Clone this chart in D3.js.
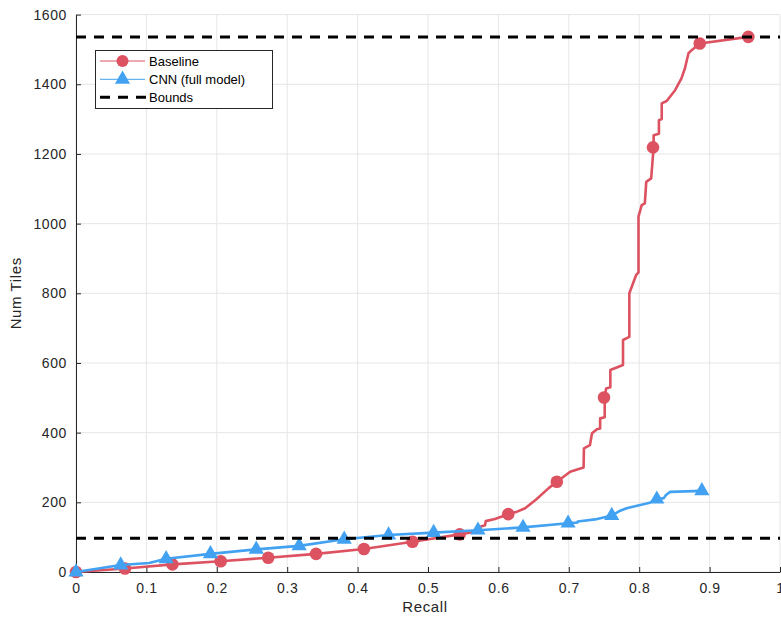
<!DOCTYPE html>
<html>
<head>
<meta charset="utf-8">
<script src="https://cdn.jsdelivr.net/npm/d3@7"></script>
<style>
  html, body { margin: 0; padding: 0; background: #fff; }
  svg text { font-family: "Liberation Sans", Arial, Helvetica, sans-serif; }
</style>
</head>
<body>
<svg id="chart" width="781" height="617"></svg>
<script>
// ---- data ----
const baselineRecall = [0, 0.07, 0.137, 0.2055, 0.273, 0.341, 0.409, 0.478, 0.545, 0.565, 0.573, 0.574, 0.581, 0.582, 0.595, 0.614, 0.625, 0.638, 0.654, 0.671, 0.683, 0.702, 0.721, 0.7215, 0.730, 0.733, 0.740, 0.7445, 0.7445, 0.751, 0.751, 0.753, 0.759, 0.759, 0.777, 0.777, 0.786, 0.786, 0.7955, 0.799, 0.799, 0.8036, 0.808, 0.810, 0.817, 0.8205, 0.8205, 0.828, 0.828, 0.832, 0.832, 0.839, 0.851, 0.860, 0.865, 0.870, 0.8745, 0.886, 0.955];
const baselineTiles  = [0, 10, 22, 31, 41, 52, 66, 87, 108, 115, 118, 130, 134, 146, 152, 166, 172, 183, 209, 240, 259, 288, 300, 355, 364, 398, 410, 412, 441, 444, 501, 527, 530, 580, 594, 666, 675, 800, 852, 860, 1020, 1053, 1058, 1120, 1130, 1219, 1254, 1258, 1297, 1300, 1345, 1352, 1383, 1417, 1446, 1489, 1498, 1517, 1536];
const baselineMarkRecall = [0, 0.0696, 0.137, 0.2055, 0.273, 0.341, 0.409, 0.478, 0.545, 0.614, 0.683, 0.750, 0.8196, 0.886, 0.955];
const baselineMarkTiles  = [0, 10, 22, 31, 41, 52, 66, 87, 108, 166, 259, 501, 1219, 1517, 1536];

const cnnRecall = [0, 0.0635, 0.104, 0.128, 0.191, 0.256, 0.317, 0.381, 0.444, 0.508, 0.571, 0.635, 0.699, 0.7125, 0.7125, 0.7375, 0.761, 0.773, 0.782, 0.815, 0.825, 0.835, 0.838, 0.844, 0.889];
const cnnTiles  = [0, 20, 26, 38, 52, 65, 75, 94, 106, 113, 120, 128, 140, 142, 145, 151, 162, 176, 183, 199, 209, 212, 221, 230, 233];
const cnnMarkRecall = [0, 0.0635, 0.128, 0.191, 0.256, 0.317, 0.381, 0.444, 0.508, 0.571, 0.635, 0.699, 0.761, 0.825, 0.889];
const cnnMarkTiles  = [0, 20, 38, 52, 65, 75, 94, 106, 113, 120, 128, 140, 162, 209, 233];

const boundValues = [97, 1536];

const xTicks = [0, 0.1, 0.2, 0.3, 0.4, 0.5, 0.6, 0.7, 0.8, 0.9, 1];
const xTickLabels = ["0", "0.1", "0.2", "0.3", "0.4", "0.5", "0.6", "0.7", "0.8", "0.9", "1"];
const yTicks = [0, 200, 400, 600, 800, 1000, 1200, 1400, 1600];
const legendLabels = ["Baseline", "CNN (full model)", "Bounds"];

// ---- styles ----
const RED = "#dd5260";
const BLUE = "#42a2f1";
const AX = "#262626";
const GRID = "#e6e6e6";

const svg = d3.select("#chart");
const L = 76, R = 780, T = 14.6, B = 572;
const x = d3.scaleLinear().domain([0, 1]).range([L, R]);
const y = d3.scaleLinear().domain([0, 1600]).range([B, T]);

// grid
const g = svg.append("g");
g.selectAll("line.vg").data(xTicks).join("line")
  .attr("x1", d => x(d)).attr("x2", d => x(d)).attr("y1", T).attr("y2", B)
  .attr("stroke", GRID).attr("stroke-width", 1);
g.selectAll("line.hg").data(yTicks).join("line")
  .attr("x1", L).attr("x2", R).attr("y1", d => y(d)).attr("y2", d => y(d))
  .attr("stroke", GRID).attr("stroke-width", 1);

// axes (ticks inward)
const xAxis = d3.axisBottom(x).tickValues(xTicks).tickFormat((d, i) => xTickLabels[i])
  .tickSizeInner(-5).tickSizeOuter(0).tickPadding(11);
const yAxis = d3.axisLeft(y).tickValues(yTicks).tickFormat(d3.format("d"))
  .tickSizeInner(-5).tickSizeOuter(0).tickPadding(9);

const gx = svg.append("g").attr("transform", `translate(0,${B})`).call(xAxis);
const gy = svg.append("g").attr("transform", `translate(${L},0)`).call(yAxis);
[gx, gy].forEach(a => {
  a.select(".domain").attr("stroke", AX).attr("stroke-width", 1);
  a.selectAll(".tick line").attr("stroke", AX).attr("stroke-width", 1);
  a.selectAll(".tick text").attr("fill", AX).attr("font-size", 14).attr("letter-spacing", "0.6px")
    .attr("font-family", "'Liberation Sans', Arial, sans-serif");
});

// axis labels
svg.append("text").attr("x", (L + R) / 2 - 3).attr("y", 612).attr("text-anchor", "middle")
  .attr("font-size", 15).attr("letter-spacing", "0.6px").attr("fill", AX).text("Recall");
svg.append("text").attr("transform", `translate(21,${(T + B) / 2}) rotate(-90)`)
  .attr("text-anchor", "middle").attr("font-size", 15).attr("letter-spacing", "0.6px").attr("fill", AX).text("Num Tiles");

const line = d3.line().x(d => x(d[0])).y(d => y(d[1]));
const bData = baselineRecall.map((r, i) => [r, baselineTiles[i]]);
const cData = cnnRecall.map((r, i) => [r, cnnTiles[i]]);

const plot = svg.append("g");
// baseline
plot.append("path").datum(bData).attr("d", line).attr("fill", "none")
  .attr("stroke", RED).attr("stroke-width", 2.6).attr("stroke-linejoin", "round");
plot.selectAll("circle.bm").data(baselineMarkRecall.map((r, i) => [r, baselineMarkTiles[i]])).join("circle")
  .attr("cx", d => x(d[0])).attr("cy", d => y(d[1])).attr("r", 6.3).attr("fill", RED);

// cnn
plot.append("path").datum(cData).attr("d", line).attr("fill", "none")
  .attr("stroke", BLUE).attr("stroke-width", 2.6).attr("stroke-linejoin", "round");
const tri = d3.symbol().type(d3.symbolTriangle).size(100);
plot.selectAll("path.cm").data(cnnMarkRecall.map((r, i) => [r, cnnMarkTiles[i]])).join("path")
  .attr("d", tri).attr("transform", d => `translate(${x(d[0])},${y(d[1])})`).attr("fill", BLUE);

// bounds
plot.selectAll("line.bound").data(boundValues).join("line")
  .attr("x1", L).attr("x2", R).attr("y1", d => y(d)).attr("y2", d => y(d))
  .attr("stroke", "#000").attr("stroke-width", 3).attr("stroke-dasharray", "10,8");

// legend
const lg = svg.append("g");
lg.append("rect").attr("x", 95.5).attr("y", 50.5).attr("width", 177).attr("height", 58)
  .attr("fill", "#fff").attr("stroke", AX).attr("stroke-width", 1);
const rows = [61, 79.3, 97.3];
const lx1 = 100, lx2 = 145, lxm = 122.5;
lg.append("line").attr("x1", lx1).attr("x2", lx2).attr("y1", rows[0]).attr("y2", rows[0]).attr("stroke", RED).attr("stroke-width", 1);
lg.append("circle").attr("cx", lxm).attr("cy", rows[0]).attr("r", 6).attr("fill", RED);
lg.append("line").attr("x1", lx1).attr("x2", lx2).attr("y1", rows[1]).attr("y2", rows[1]).attr("stroke", BLUE).attr("stroke-width", 1);
lg.append("path").attr("d", tri).attr("transform", `translate(${lxm},${rows[1]})`).attr("fill", BLUE);
lg.append("line").attr("x1", lx1).attr("x2", lx2 + 1).attr("y1", rows[2]).attr("y2", rows[2]).attr("stroke", "#000").attr("stroke-width", 3).attr("stroke-dasharray", "10,8");
lg.selectAll("text").data(legendLabels).join("text")
  .attr("x", 149).attr("y", (d, i) => rows[i] + 4.5).attr("font-size", 13).attr("fill", "#000").text(d => d);
</script>
</body>
</html>
